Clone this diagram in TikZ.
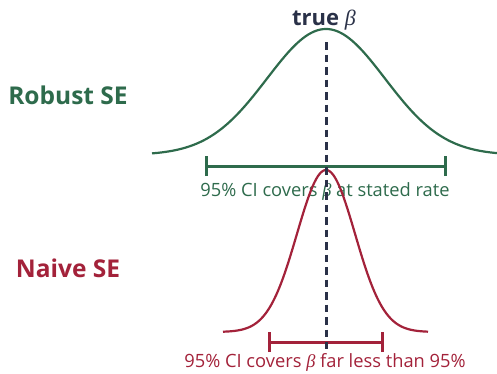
\documentclass[tikz,border=0pt]{standalone}
\usepackage{fontspec}
\setmainfont{Open Sans}
\newfontfamily\betafont{Liberation Serif}
\newcommand{\bet}{{\betafont\mdseries\itshape β}}
\definecolor{rgreen}{HTML}{2E6B4C}
\definecolor{nred}{HTML}{A3223A}
\definecolor{navy}{HTML}{2A3148}
\begin{document}
\begin{tikzpicture}[x=1pt,y=-1pt,
  curve/.style={line width=2.2pt},
  cibar/.style={line width=3pt},
  label/.style={font=\fontsize{18.3}{20}\selectfont, inner sep=0pt, anchor=base},
  side/.style={font=\fontsize{24.5}{28}\selectfont\bfseries, inner sep=0pt}]
\useasboundingbox (0,0) rectangle (497,373);
% robust curve
\draw[curve, rgreen, domain=152:497, samples=120]
  plot (\x, {155 - 126*exp(-0.5*((\x-326)/59)^2)});
% robust CI
\coordinate (gL) at (206,166);
\coordinate (gR) at (445,166);
\draw[cibar, rgreen] (gL) -- (gR);
\draw[cibar, rgreen] ([yshift=-10pt]gL) -- ([yshift=10pt]gL);
\draw[cibar, rgreen] ([yshift=-10pt]gR) -- ([yshift=10pt]gR);
\node[label, text=rgreen] (glab) at (325,196) {95\% CI covers \bet\ at stated rate};
% naive CI
\coordinate (rL) at (269,342);
\coordinate (rR) at (382,342);
\draw[cibar, nred] (rL) -- (rR);
\draw[cibar, nred] ([yshift=-10pt]rL) -- ([yshift=10pt]rL);
\draw[cibar, nred] ([yshift=-10pt]rR) -- ([yshift=10pt]rR);
\node[label, text=nred] (rlab) at (325,367) {95\% CI covers \bet\ far less than 95\%};
% naive curve
\draw[curve, nred, domain=223:428, samples=120]
  plot (\x, {332 - 162*exp(-0.5*((\x-326)/29)^2)});
% true beta
\coordinate (dtop) at (326,42);
\coordinate (dbot) at (326,349);
\draw[navy, line width=3pt, dash pattern=on 7.5pt off 5pt] (dtop) -- (dbot);
\node[font=\fontsize{22}{25}\selectfont\bfseries, text=navy, inner sep=0pt, anchor=base] (tb) at (324,25) {true \bet};
% side labels
\node[side, text=rgreen] (rob) at (68,95) {Robust SE};
\node[side, text=nred] (nai) at (68,268) {Naive SE};
\end{tikzpicture}
\end{document}
